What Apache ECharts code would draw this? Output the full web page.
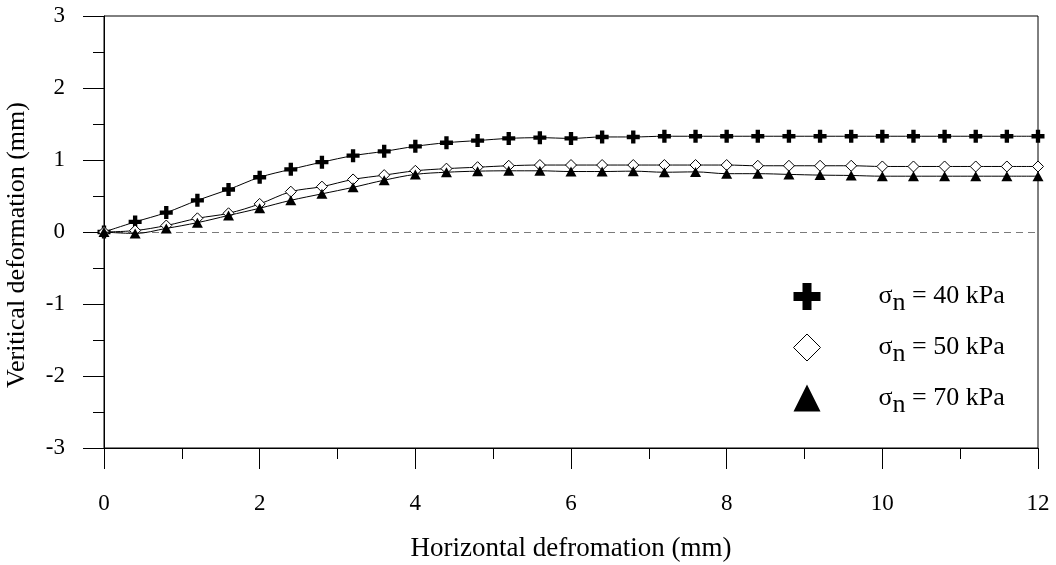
<!DOCTYPE html>
<html>
<head>
<meta charset="utf-8">
<script src="https://cdn.jsdelivr.net/npm/echarts@6/dist/echarts.min.js"></script>
<style>
  html, body { margin: 0; padding: 0; background: #ffffff; }
  #chart { width: 1056px; height: 565px; }
</style>
</head>
<body>
<div id="chart"></div>
<script>
// Horizontal deformation readings (mm)
const horizontal = [0, 0.4, 0.8, 1.2, 1.6, 2.0, 2.4, 2.8, 3.2, 3.6, 4.0, 4.4, 4.8, 5.2, 5.6, 6.0,
  6.4, 6.8, 7.2, 7.6, 8.0, 8.4, 8.8, 9.2, 9.6, 10.0, 10.4, 10.8, 11.2, 11.6, 12.0];

// Vertical deformation (mm) for each normal stress
const vertical40 = [0, 0.14, 0.27, 0.44, 0.59, 0.76, 0.87, 0.97, 1.06, 1.12, 1.19, 1.24, 1.27, 1.30, 1.31, 1.30,
  1.32, 1.32, 1.33, 1.33, 1.33, 1.33, 1.33, 1.33, 1.33, 1.33, 1.33, 1.33, 1.33, 1.33, 1.33];
const vertical50 = [0, 0.02, 0.09, 0.19, 0.26, 0.39, 0.56, 0.63, 0.73, 0.79, 0.85, 0.88, 0.90, 0.92, 0.93, 0.93,
  0.93, 0.93, 0.93, 0.93, 0.93, 0.92, 0.92, 0.92, 0.92, 0.91, 0.91, 0.91, 0.91, 0.91, 0.91];
const vertical70 = [0, -0.02, 0.05, 0.13, 0.23, 0.33, 0.44, 0.53, 0.62, 0.72, 0.80, 0.83, 0.845, 0.85, 0.85, 0.84,
  0.84, 0.845, 0.83, 0.835, 0.81, 0.81, 0.80, 0.79, 0.785, 0.775, 0.775, 0.775, 0.775, 0.775, 0.775];

const stressLabels = ['40 kPa', '50 kPa', '70 kPa'];

const xTitle = 'Horizontal defromation (mm)';
const yTitle = 'Veritical deformation (mm)';

const serif = "'Liberation Serif', 'Times New Roman', serif";
const crossPath = 'path://M4,0H8V4H12V8H8V12H4V8H0V4H4Z';

function pairs(xs, ys) {
  return xs.map((x, i) => [x, ys[i]]);
}

const chart = echarts.init(document.getElementById('chart'), null, { renderer: 'canvas' });

const option = {
  animation: false,
  backgroundColor: '#ffffff',
  textStyle: { fontFamily: serif, color: '#000' },
  grid: {
    left: 104, right: 18, top: 16, bottom: 117,
    containLabel: false, outerBoundsMode: 'none',
    show: true, borderColor: '#000', borderWidth: 1, backgroundColor: 'transparent'
  },
  xAxis: {
    type: 'value', min: 0, max: 12, interval: 2,
    name: xTitle, nameLocation: 'middle', nameGap: 87,
    nameTextStyle: { fontFamily: serif, fontSize: 27, color: '#000' },
    axisLine: { show: true, onZero: false, lineStyle: { color: '#000', width: 1 } },
    axisTick: { show: true, length: 21, lineStyle: { color: '#000', width: 1 } },
    minorTick: { show: true, splitNumber: 2, length: 11, lineStyle: { color: '#000', width: 1 } },
    axisLabel: { margin: 44, fontFamily: serif, fontSize: 23, color: '#000' },
    splitLine: { show: false }
  },
  yAxis: {
    type: 'value', min: -3, max: 3, interval: 1,
    name: yTitle, nameLocation: 'middle', nameGap: 74,
    nameTextStyle: { fontFamily: serif, fontSize: 26, color: '#000', padding: [0, 26, 0, 0] },
    axisLine: { show: true, onZero: false, lineStyle: { color: '#000', width: 1 } },
    axisTick: { show: true, length: 21, lineStyle: { color: '#000', width: 1 } },
    minorTick: { show: true, splitNumber: 2, length: 11, lineStyle: { color: '#000', width: 1 } },
    axisLabel: { margin: 39, fontFamily: serif, fontSize: 23, color: '#000' },
    splitLine: { show: false }
  },
  legend: {
    orient: 'vertical',
    left: 788, top: 278,
    itemWidth: 27, itemHeight: 27, itemGap: 17,
    selectedMode: false,
    data: [
      { name: stressLabels[0], icon: crossPath, itemStyle: { color: '#000', borderWidth: 0 } },
      { name: stressLabels[1], icon: 'diamond', itemStyle: { color: '#fff', borderColor: '#000', borderWidth: 1 } },
      { name: stressLabels[2], icon: 'triangle', itemStyle: { color: '#000', borderWidth: 0 } }
    ],
    formatter: name => `{g|}{s|σ}{n|n}{t| = ${name}}`,
    textStyle: {
      fontFamily: serif, fontSize: 26, color: '#000',
      rich: {
        g: { width: 53 },
        s: { fontFamily: serif, fontSize: 26, color: '#000' },
        n: { fontFamily: serif, fontSize: 26, color: '#000', padding: [14, 0, 0, 0] },
        t: { fontFamily: serif, fontSize: 26, color: '#000' }
      }
    }
  },
  series: [
    {
      name: stressLabels[0], type: 'line', smooth: 0.35,
      data: pairs(horizontal, vertical40),
      symbol: crossPath, symbolSize: 13,
      itemStyle: { color: '#000', borderWidth: 0 },
      lineStyle: { color: '#000', width: 1 },
      markLine: {
        silent: true, symbol: ['none', 'none'],
        label: { show: false },
        lineStyle: { color: '#7a7a7a', type: [7, 5], width: 1 },
        data: [{ yAxis: 0 }]
      },
      z: 3
    },
    {
      name: stressLabels[1], type: 'line', smooth: 0.35,
      data: pairs(horizontal, vertical50),
      symbol: 'diamond', symbolSize: 11,
      itemStyle: { color: '#fff', borderColor: '#000', borderWidth: 1 },
      lineStyle: { color: '#000', width: 1 },
      z: 4
    },
    {
      name: stressLabels[2], type: 'line', smooth: 0.35,
      data: pairs(horizontal, vertical70),
      symbol: 'triangle', symbolSize: [11, 10],
      itemStyle: { color: '#000', borderWidth: 0 },
      lineStyle: { color: '#000', width: 1 },
      z: 5
    }
  ]
};

chart.setOption(option);
</script>
</body>
</html>
